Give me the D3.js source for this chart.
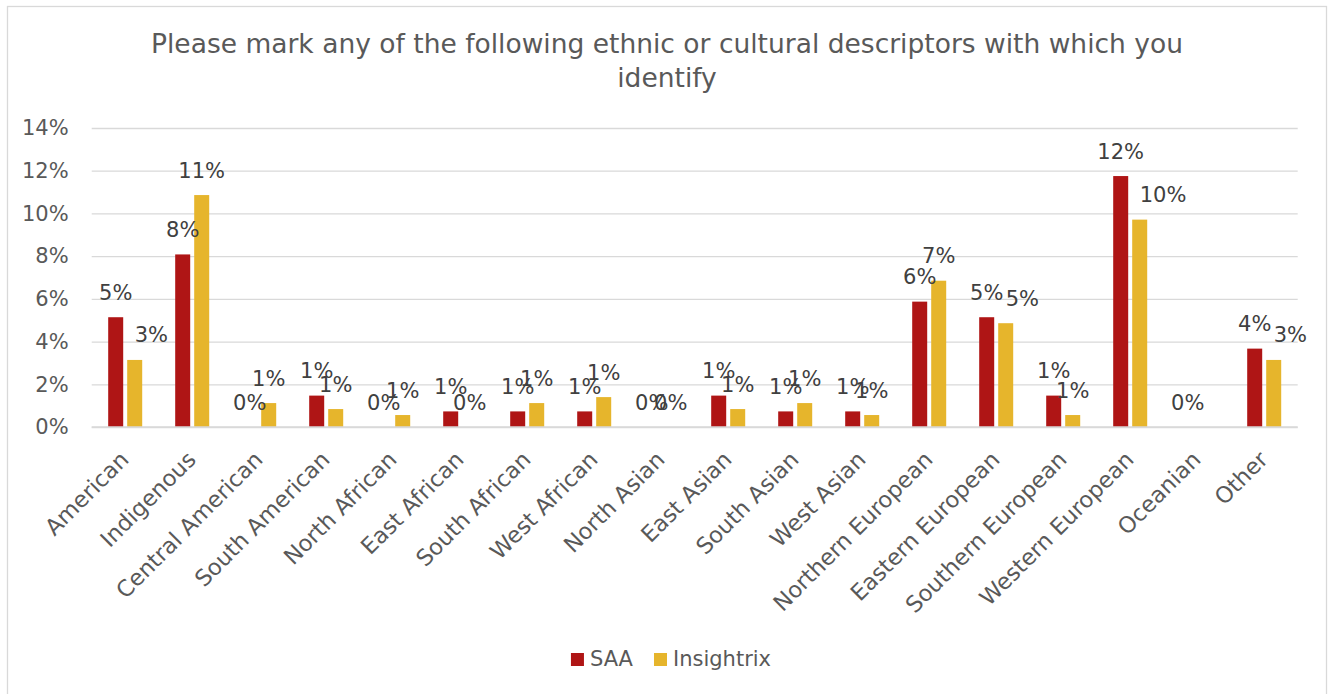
<!DOCTYPE html>
<html>
<head>
<meta charset="utf-8">
<script src="https://cdn.jsdelivr.net/npm/d3@7"></script>
<style>
  html, body { margin: 0; padding: 0; background: #fff; }
  svg { display: block; }
  text { font-family: "Century Gothic", "DejaVu Sans", sans-serif; }
</style>
</head>
<body>
<svg id="chart" width="1333" height="694"></svg>
<script>
// Survey results: share of respondents (%) identifying with each descriptor
const categories = [
  "American", "Indigenous", "Central American", "South American", "North African",
  "East African", "South African", "West African", "North Asian", "East Asian",
  "South Asian", "West Asian", "Northern European", "Eastern European",
  "Southern European", "Western European", "Oceanian", "Other"
];
const seriesNames = ["SAA", "Insightrix"];
const saaValues = [5.14, 8.08, 0, 1.47, 0, 0.73, 0.73, 0.73, 0, 1.47, 0.73, 0.73, 5.87, 5.14, 1.47, 11.75, 0, 3.67];
const insightrixValues = [3.14, 10.86, 1.12, 0.84, 0.56, 0, 1.12, 1.40, 0, 0.84, 1.12, 0.56, 6.85, 4.86, 0.56, 9.71, null, 3.14];
const yTicks = [0, 2, 4, 6, 8, 10, 12, 14];
const titleLines = [
  "Please mark any of the following ethnic or cultural descriptors with which you",
  "identify"
];
// Insightrix labels that sit beside the taller SAA bar instead of centred
const labelsBesideBar = ["American", "Eastern European", "Western European", "Other"];

const colors = { SAA: "#AF1515", Insightrix: "#E6B52C" };
const textColor = "#595959";
const labelColor = "#404040";
const gridColor = "#D9D9D9";
const fontStack = "\"Century Gothic\", \"DejaVu Sans\", sans-serif";

const svg = d3.select("#chart");
const plot = { left: 91.7, right: 1297.7, top: 128, bottom: 427 };

// Outer frame
svg.append("rect")
  .attr("x", 7.5).attr("y", 6.5)
  .attr("width", 1319).attr("height", 700)
  .attr("fill", "#fff").attr("stroke", gridColor).attr("stroke-width", 1.3);

// Title
const title = svg.append("g").attr("class", "title");
titleLines.forEach((line, i) => {
  title.append("text")
    .attr("x", 667).attr("y", 53 + i * 34)
    .attr("text-anchor", "middle")
    .attr("fill", textColor)
    .attr("font-size", 26.5)
    .text(line);
});

// Scales
const x = d3.scaleBand()
  .domain(categories)
  .range([plot.left, plot.right])
  .paddingInner(33 / 67)
  .paddingOuter(33 / 134);
const xInner = d3.scaleBand()
  .domain(seriesNames)
  .range([0, x.bandwidth()])
  .paddingInner(4 / 19);
const y = d3.scaleLinear().domain([0, 14]).range([plot.bottom, plot.top]);

// Gridlines and y tick labels
const yAxis = svg.append("g")
  .attr("transform", `translate(${plot.left},0)`)
  .call(d3.axisLeft(y).tickValues(yTicks).tickSize(-(plot.right - plot.left)).tickPadding(23).tickFormat(d => d + "%"));
yAxis.select(".domain").remove();
yAxis.selectAll(".tick line").attr("stroke", gridColor).attr("stroke-width", 1.3);
yAxis.selectAll(".tick text")
  .attr("fill", textColor)
  .attr("font-size", 21)
  .attr("font-family", fontStack);

// X axis labels
const xAxis = svg.append("g")
  .attr("transform", `translate(0,${plot.bottom})`)
  .call(d3.axisBottom(x).tickSize(0).tickPadding(0));
xAxis.select(".domain").remove();
xAxis.selectAll(".tick text")
  .attr("fill", textColor)
  .attr("font-size", 22.5)
  .attr("font-family", fontStack)
  .attr("text-anchor", "end")
  .attr("dy", 0)
  .attr("y", 0)
  .attr("transform", "translate(5,34) rotate(-45)");

// Bars
const rows = categories.map((c, i) => ({
  category: c,
  values: [
    { series: "SAA", value: saaValues[i] },
    { series: "Insightrix", value: insightrixValues[i] }
  ]
}));

const groups = svg.append("g").selectAll("g")
  .data(rows)
  .join("g")
  .attr("transform", d => `translate(${x(d.category)},0)`);

groups.selectAll("rect")
  .data(d => d.values.filter(v => v.value != null && v.value > 0))
  .join("rect")
  .attr("x", v => xInner(v.series))
  .attr("width", xInner.bandwidth())
  .attr("y", v => y(v.value))
  .attr("height", v => y(0) - y(v.value))
  .attr("fill", v => colors[v.series]);

// Data labels
const fmt = v => d3.format(".0%")(v / 100);
groups.selectAll("text.value")
  .data(d => d.values.filter(v => v.value != null).map(v => ({ ...v, category: d.category })))
  .join("text")
  .attr("class", "value")
  .attr("fill", labelColor)
  .attr("font-size", 21)
  .attr("x", v => xInner(v.series) + xInner.bandwidth() / 2)
  .attr("y", v => y(v.value) - 17.5)
  .attr("text-anchor", v => (v.series === "Insightrix" && labelsBesideBar.includes(v.category)) ? "start" : "middle")
  .text(v => fmt(v.value));

// Axis baseline on top of bars
svg.append("line")
  .attr("x1", plot.left).attr("x2", plot.right)
  .attr("y1", y(0)).attr("y2", y(0))
  .attr("stroke", gridColor).attr("stroke-width", 1.3);

// Legend
const legend = svg.append("g").attr("class", "legend");
let lx = 0;
seriesNames.forEach(name => {
  const item = legend.append("g").attr("transform", `translate(${lx},0)`);
  item.append("rect").attr("x", 0).attr("y", -13).attr("width", 13).attr("height", 13).attr("fill", colors[name]);
  const t = item.append("text").attr("x", 19).attr("y", 0).attr("fill", textColor).attr("font-size", 21).text(name);
  lx += 19 + t.node().getComputedTextLength() + 21;
});
const legendWidth = lx - 21;
legend.attr("transform", `translate(${671 - legendWidth / 2},666)`);
</script>
</body>
</html>
